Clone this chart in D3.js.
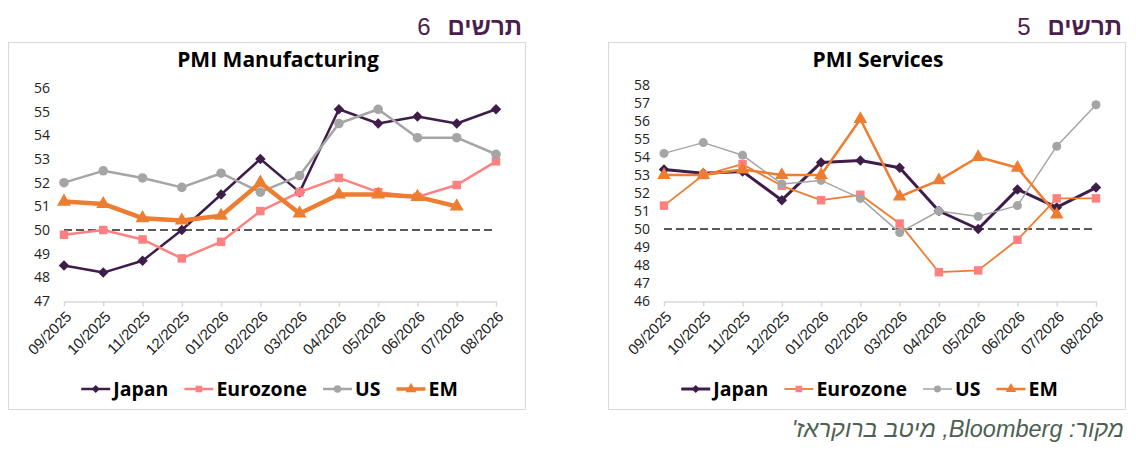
<!DOCTYPE html>
<html>
<head>
<meta charset="utf-8">
<script src="https://cdn.jsdelivr.net/npm/d3@7"></script>
<style>
body { margin: 0; background: #fff; }
</style>
</head>
<body>
<div id="chart"></div>
<script>
// months on the x axis (same for both panels)
const months = ["09/2025", "10/2025", "11/2025", "12/2025", "01/2026", "02/2026",
  "03/2026", "04/2026", "05/2026", "06/2026", "07/2026", "08/2026"];

// PMI Manufacturing (chart 6)
const mfgTicks = [47, 48, 49, 50, 51, 52, 53, 54, 55, 56];
const mfgJapan = [48.5, 48.2, 48.7, 50.0, 51.5, 53.0, 51.6, 55.1, 54.5, 54.8, 54.5, 55.1];
const mfgEurozone = [49.8, 50.0, 49.6, 48.8, 49.5, 50.8, 51.6, 52.2, 51.6, 51.4, 51.9, 52.9];
const mfgUS = [52.0, 52.5, 52.2, 51.8, 52.4, 51.6, 52.3, 54.5, 55.1, 53.9, 53.9, 53.2];
const mfgEM = [51.2, 51.1, 50.5, 50.4, 50.6, 52.0, 50.7, 51.5, 51.5, 51.4, 51.0, null];

// PMI Services (chart 5)
const svcTicks = [46, 47, 48, 49, 50, 51, 52, 53, 54, 55, 56, 57, 58];
const svcJapan = [53.3, 53.1, 53.2, 51.6, 53.7, 53.8, 53.4, 51.0, 50.0, 52.2, 51.2, 52.3];
const svcEurozone = [51.3, 53.0, 53.6, 52.4, 51.6, 51.9, 50.3, 47.6, 47.7, 49.4, 51.7, 51.7];
const svcUS = [54.2, 54.8, 54.1, 52.5, 52.7, 51.7, 49.8, 51.0, 50.7, 51.3, 54.6, 56.9];
const svcEM = [53.0, 53.0, 53.3, 53.0, 53.0, 56.1, 51.8, 52.7, 54.0, 53.4, 50.8, null];

const seriesNames = ["Japan", "Eurozone", "US", "EM"];
const threshold = 50;

const W = 1136, H = 450;
const svg = d3.select("#chart").append("svg")
  .attr("width", W)
  .attr("height", H);

const purple = "#3f1d4b", salmon = "#ff8080", grey = "#a5a5a5", orange = "#ed7d31";

function marker(shape, size) {
  if (shape == "diamond" || shape == "square") return d3.symbol().type(d3.symbolSquare).size(size)();
  if (shape == "circle") return d3.symbol().type(d3.symbolCircle).size(size)();
  return d3.symbol().type(d3.symbolTriangle).size(size)();
}

function drawPanel(opt) {
  const box = {x: opt.left, y: 42, w: 517, h: 367};
  const g = svg.append("g");

  // heading above the box: bold word, then the number further left
  const word = g.append("text")
    .attr("x", box.x + box.w - 3)
    .attr("y", 35)
    .attr("text-anchor", "end")
    .style("font-family", "Liberation Sans, Arial, sans-serif")
    .style("font-size", "24px")
    .style("font-weight", "bold")
    .style("fill", "#4a1f50")
    .text("תרשים");
  const wordW = word.node().getComputedTextLength();
  g.append("text")
    .attr("x", box.x + box.w - 3 - wordW - 17)
    .attr("y", 35)
    .attr("text-anchor", "end")
    .style("font-family", "Liberation Sans, Arial, sans-serif")
    .style("font-size", "24px")
    .style("fill", "#4a1f50")
    .text(opt.number);

  g.append("rect")
    .attr("x", box.x + 0.5).attr("y", box.y + 0.5)
    .attr("width", box.w).attr("height", box.h)
    .attr("fill", "#fff")
    .attr("stroke", "#d9d9d9");

  const x = d3.scalePoint()
    .domain(months)
    .range([box.x + 56, box.x + 488]);
  const y = d3.scaleLinear()
    .domain(d3.extent(opt.ticks))
    .range([301, opt.topY]);

  // chart title
  g.append("text")
    .attr("x", box.x + 270)
    .attr("y", 67)
    .attr("text-anchor", "middle")
    .style("font-family", "Open Sans, sans-serif")
    .style("font-weight", "bold")
    .style("font-size", "21px")
    .text(opt.title);

  // y axis labels only
  g.append("g")
    .selectAll("text")
    .data(opt.ticks)
    .enter()
    .append("text")
    .attr("x", box.x + 42)
    .attr("y", d => y(d))
    .attr("dy", "0.35em")
    .attr("text-anchor", "end")
    .style("font-family", "Open Sans, sans-serif")
    .style("font-size", "14px")
    .style("fill", "#222")
    .text(d => d);

  // x axis
  const xAxis = g.append("g")
    .attr("transform", `translate(0, ${y(opt.ticks[0]) + 0.5})`)
    .call(d3.axisBottom(x).tickSize(5).tickSizeOuter(0));
  xAxis.select(".domain").attr("stroke", "#d9d9d9").attr("stroke-width", 1.5);
  xAxis.selectAll(".tick line").attr("stroke", "#d9d9d9").attr("stroke-width", 1.5);
  xAxis.selectAll(".tick text")
    .attr("text-anchor", "end")
    .attr("dx", 0)
    .attr("dy", 0)
    .attr("y", 0)
    .attr("transform", "translate(8, 16) rotate(-45)")
    .style("font-family", "Liberation Sans, Arial, sans-serif")
    .style("font-size", "15px")
    .style("fill", "#222");

  // dashed 50 line
  g.append("line")
    .attr("x1", x(months[0])).attr("x2", x(months[months.length - 1]))
    .attr("y1", y(threshold)).attr("y2", y(threshold))
    .attr("stroke", "#595959")
    .attr("stroke-width", 1.8)
    .attr("stroke-dasharray", "8,4");

  const line = d3.line()
    .defined(d => d != null)
    .x((d, i) => x(months[i]))
    .y(d => y(d));

  opt.series.forEach(s => {
    g.append("path")
      .datum(s.values)
      .attr("fill", "none")
      .attr("stroke", s.stroke)
      .attr("stroke-width", s.width)
      .attr("stroke-linejoin", "round")
      .attr("d", line);

    g.append("g")
      .selectAll("path")
      .data(s.values.map((v, i) => [i, v]).filter(d => d[1] != null))
      .enter()
      .append("path")
      .attr("d", marker(s.shape, s.size))
      .attr("transform", d => `translate(${x(months[d[0]])}, ${y(d[1])})` + (s.shape == "diamond" ? " rotate(45)" : ""))
      .attr("fill", s.fill);
  });

  // legend
  const leg = g.append("g");
  let cx = 0;
  opt.series.forEach(s => {
    const item = leg.append("g").attr("transform", `translate(${cx}, 0)`);
    item.append("line")
      .attr("x1", 0).attr("x2", 29)
      .attr("stroke", s.stroke)
      .attr("stroke-width", Math.min(s.width, 3.5));
    item.append("path")
      .attr("d", marker(s.shape, s.size * 0.6))
      .attr("transform", "translate(14.5, 0)" + (s.shape == "diamond" ? " rotate(45)" : ""))
      .attr("fill", s.fill);
    const t = item.append("text")
      .attr("x", 32)
      .attr("dy", "0.36em")
      .style("font-family", "Open Sans, sans-serif")
      .style("font-weight", "bold")
      .style("font-size", "19.5px")
      .text(s.name);
    cx += 32 + t.node().getComputedTextLength() + 16;
  });
  const legW = cx - 16;
  leg.attr("transform", `translate(${box.x + box.w / 2 + 3 - legW / 2}, 389)`);
}

drawPanel({
  left: 8,
  number: "6",
  title: "PMI Manufacturing",
  ticks: mfgTicks,
  topY: 88,
  series: [
    {name: seriesNames[0], values: mfgJapan, stroke: purple, fill: purple, width: 2.5, shape: "diamond", size: 55},
    {name: seriesNames[1], values: mfgEurozone, stroke: salmon, fill: salmon, width: 2.5, shape: "square", size: 72},
    {name: seriesNames[2], values: mfgUS, stroke: grey, fill: grey, width: 2.5, shape: "circle", size: 72},
    {name: seriesNames[3], values: mfgEM, stroke: orange, fill: orange, width: 4.5, shape: "triangle", size: 85}
  ]
});

drawPanel({
  left: 608,
  number: "5",
  title: "PMI Services",
  ticks: svcTicks,
  topY: 85,
  series: [
    {name: seriesNames[0], values: svcJapan, stroke: purple, fill: purple, width: 3, shape: "diamond", size: 55},
    {name: seriesNames[1], values: svcEurozone, stroke: orange, fill: salmon, width: 1.8, shape: "square", size: 72},
    {name: seriesNames[2], values: svcUS, stroke: grey, fill: grey, width: 1.5, shape: "circle", size: 64},
    {name: seriesNames[3], values: svcEM, stroke: orange, fill: orange, width: 2.5, shape: "triangle", size: 80}
  ]
});

// source note
svg.append("text")
  .attr("x", 1124)
  .attr("y", 437)
  .attr("direction", "rtl")
  .attr("text-anchor", "start")
  .style("font-family", "Liberation Sans, Arial, sans-serif")
  .style("font-style", "italic")
  .style("font-size", "23.5px")
  .style("fill", "#4d6152")
  .text("מקור: Bloomberg, מיטב ברוקראז'");
</script>
</body>
</html>
